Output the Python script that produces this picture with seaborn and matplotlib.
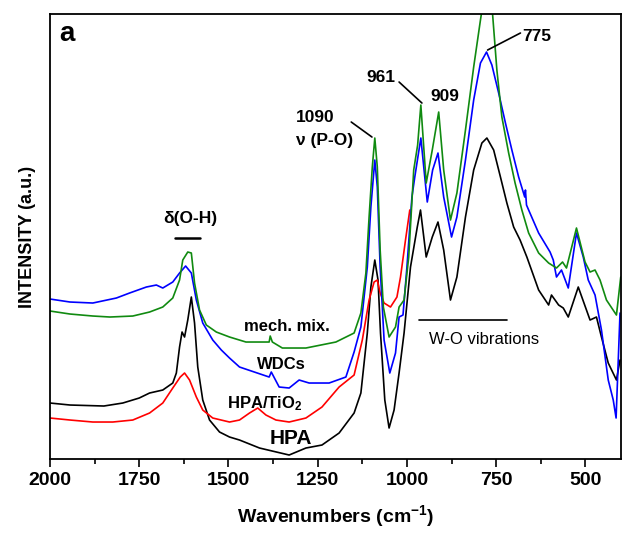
# FTIR spectra, panel a: HPA, HPA/TiO2, WDCs and mechanical mixture

import matplotlib
matplotlib.use("Agg")
import matplotlib.pyplot as plt
import seaborn as sns
import pandas as pd

# wavenumbers (cm-1) and intensities (a.u.)
hpa_wn = [2000, 1944, 1849, 1796, 1750, 1721, 1684, 1656, 1646, 1637, 1630, 1623, 1614,
          1604, 1595, 1586, 1572, 1553, 1525, 1497, 1469, 1413, 1330, 1283, 1238, 1190,
          1148, 1129, 1111, 1101, 1090, 1081, 1074, 1062, 1050, 1036, 1022, 1008, 990, 971,
          962, 946, 929, 913, 897, 878, 860, 836, 813, 790, 776, 757, 738, 720, 701, 683,
          664, 631, 603, 595, 575, 562, 548, 520, 487, 469, 455, 436, 413, 403]
hpa_int = [56, 54, 53, 56, 61, 66, 69, 76, 86, 112, 127, 122, 139,
           162, 136, 92, 59, 39, 27, 22, 19, 11, 4, 11, 14, 26,
           46, 66, 126, 172, 199, 179, 126, 59, 31, 49, 86, 126, 192, 232,
           249, 202, 222, 237, 209, 159, 182, 242, 289, 316, 321, 309, 282, 256, 232, 219,
           202, 169, 154, 164, 154, 151, 142, 172, 139, 142, 122, 96, 79, 99]

tio2_wn = [2000, 1944, 1880, 1824, 1768, 1721, 1684, 1656, 1635, 1623, 1609, 1590, 1572,
           1544, 1497, 1469, 1441, 1418, 1395, 1367, 1330, 1283, 1238, 1190, 1148, 1125,
           1106, 1092, 1083, 1075, 1064, 1046, 1028, 1018, 1004, 992]
tio2_int = [41, 39, 37, 37, 39, 46, 56, 71, 82, 86, 79, 62, 49,
            41, 37, 39, 46, 51, 44, 39, 37, 41, 52, 72, 84, 119,
            159, 177, 179, 166, 156, 152, 162, 182, 219, 249]

wdc_wn = [2000, 1944, 1880, 1814, 1777, 1730, 1702, 1684, 1656, 1637, 1620, 1604, 1590,
          1572, 1544, 1520, 1497, 1469, 1386, 1380, 1358, 1330, 1302, 1274, 1218, 1171,
          1148, 1129, 1111, 1101, 1090, 1083, 1075, 1064, 1048, 1032, 1022, 1011, 1000, 986,
          978, 961, 943, 928, 913, 897, 875, 860, 836, 813, 794, 777, 762, 743, 724, 706,
          687, 670, 668, 665, 659, 631, 599, 590, 581, 567, 548, 525, 506, 492, 473, 455,
          436, 422, 414, 403]
wdc_int = [160, 157, 156, 161, 166, 172, 174, 171, 177, 186, 193, 186, 159,
           136, 119, 109, 101, 92, 82, 87, 72, 71, 79, 76, 76, 82,
           107, 132, 192, 252, 299, 272, 192, 119, 86, 106, 142, 144, 192, 262,
           282, 321, 257, 289, 306, 262, 222, 242, 299, 359, 396, 407, 394, 366, 336, 309,
           282, 262, 269, 254, 249, 226, 207, 199, 182, 189, 171, 226, 202, 179, 164, 129,
           79, 59, 41, 146]

mix_wn = [2000, 1944, 1880, 1832, 1768, 1721, 1684, 1656, 1637, 1628, 1614, 1604, 1595,
          1581, 1562, 1534, 1497, 1451, 1386, 1383, 1377, 1349, 1283, 1199, 1148, 1129,
          1115, 1106, 1097, 1090, 1083, 1075, 1066, 1050, 1032, 1022, 1008, 995, 981, 970,
          961, 946, 929, 911, 897, 878, 860, 836, 813, 794, 779, 762, 748, 734, 715, 697,
          678, 659, 631, 603, 581, 564, 553, 525, 501, 487, 473, 459, 441, 413, 401]
mix_int = [148, 145, 143, 142, 143, 147, 152, 161, 179, 199, 207, 206, 176,
           149, 134, 127, 122, 117, 117, 123, 117, 111, 111, 117, 126, 146,
           186, 242, 292, 321, 292, 209, 152, 122, 132, 152, 159, 202, 289, 314,
           354, 276, 309, 347, 289, 239, 266, 329, 392, 439, 474, 454, 389, 342, 306, 276,
           249, 226, 206, 196, 191, 197, 191, 231, 197, 187, 189, 179, 159, 144, 182]

sample_names = ["HPA", "HPA/TiO$_2$", "WDCs", "mech. mix."]
sample_colors = ["black", "#ff0000", "#0000ff", "#108a10"]

frames = []
for name, wn, inten in zip(sample_names,
                           [hpa_wn, tio2_wn, wdc_wn, mix_wn],
                           [hpa_int, tio2_int, wdc_int, mix_int]):
    frames.append(pd.DataFrame({"wn": wn, "intensity": inten, "sample": name}))
df = pd.concat(frames, ignore_index=True)

sns.set_style("ticks")
plt.rcParams["font.family"] = ["Liberation Sans", "DejaVu Sans"]
plt.rcParams["font.weight"] = "bold"
plt.rcParams["mathtext.default"] = "regular"
for key in ["text.color", "axes.labelcolor", "xtick.color", "ytick.color", "axes.edgecolor"]:
    plt.rcParams[key] = "black"

fig = plt.figure(figsize=(6.28, 5.33), dpi=100)
ax = fig.add_axes([0.0796, 0.1388, 0.9094, 0.8349])

sns.lineplot(data=df, x="wn", y="intensity", hue="sample", palette=sample_colors,
             hue_order=sample_names, sort=False, estimator=None, linewidth=1.2,
             legend=False, ax=ax)

ax.set_xlim(2000, 400)
ax.set_ylim(0, 445)
ax.set_xticks([2000, 1750, 1500, 1250, 1000, 750, 500])
ax.set_xticks([1875, 1625, 1375, 1125, 875, 625], minor=True)
ax.set_yticks([])
ax.tick_params(axis="x", which="major", direction="out", length=6, width=1.2,
               labelsize=14)
ax.tick_params(axis="x", which="minor", direction="out", length=3.5, width=1.2)
for lab in ax.get_xticklabels():
    lab.set_fontweight("bold")
for side in ["top", "right", "left", "bottom"]:
    ax.spines[side].set_visible(True)
    ax.spines[side].set_linewidth(1.3)

ax.set_xlabel("Wavenumbers (cm$^{-1}$)", fontsize=14, fontweight="bold", labelpad=10)
ax.set_ylabel("INTENSITY (a.u.)", fontsize=13, fontweight="bold", labelpad=10)

# panel letter
ax.text(0.017, 0.955, "a", transform=ax.transAxes, fontsize=20, fontweight="bold",
        ha="left", va="center")

# band assignments
ax.text(1606, 241, "δ(O-H)", fontsize=12.5, fontweight="bold", ha="center", va="center")
ax.plot([1651, 1581], [221, 221], color="black", lw=1.8)

ax.text(1310, 342, "1090", fontsize=12.5, fontweight="bold", ha="left", va="center")
ax.text(1310, 319, "ν (P-O)", fontsize=12.5, fontweight="bold", ha="left", va="center")
ax.plot([1156, 1098], [337, 322], color="black", lw=1.2)

ax.text(1073, 382, "961", fontsize=12.5, fontweight="bold", ha="center", va="center")
ax.plot([1022, 958], [377, 356], color="black", lw=1.2)

ax.text(894, 363, "909", fontsize=12.5, fontweight="bold", ha="center", va="center")

ax.text(637, 423, "775", fontsize=12.5, fontweight="bold", ha="center", va="center")
ax.plot([682, 774], [426, 409], color="black", lw=1.2)

ax.text(785, 120, "W-O vibrations", fontsize=12, fontweight="normal",
        ha="center", va="center")
ax.plot([966, 721], [139, 139], color="black", lw=1.2)

# sample labels
ax.text(1335, 133, "mech. mix.", fontsize=12, fontweight="bold", ha="center", va="center")
ax.text(1352, 95, "WDCs", fontsize=12, fontweight="bold", ha="center", va="center")
ax.text(1399, 55, "HPA/TiO$_2$", fontsize=12, fontweight="bold", ha="center", va="center")
ax.text(1324, 21, "HPA", fontsize=15, fontweight="bold", ha="center", va="center")

fig.savefig("out.png", dpi=100)
